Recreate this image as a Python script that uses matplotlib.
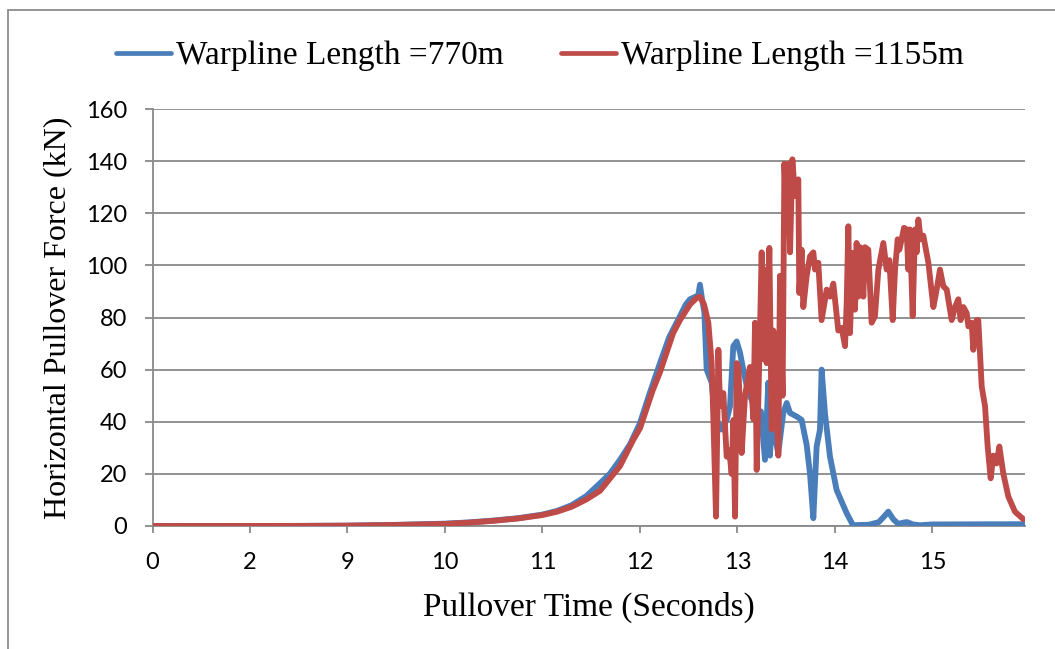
import matplotlib
matplotlib.use("Agg")
import matplotlib.pyplot as plt
from matplotlib.patches import Rectangle

# ---------------- data (positions along the category axis, tick units) ----------------
tick_labels = ['0', '2', '9', '10', '11', '12', '13', '14', '15']

blue_pos = [0, 0.5, 1, 1.5, 2, 2.5, 3, 3.25, 3.5, 3.75,
            4, 4.15, 4.3, 4.45, 4.59, 4.69, 4.795, 4.9, 5.0, 5.1,
            5.205, 5.3, 5.41, 5.47, 5.513, 5.598, 5.615, 5.633, 5.66, 5.684,
            5.735, 5.769, 5.838, 5.889, 5.923, 5.957, 5.992, 6.026, 6.059, 6.111,
            6.146, 6.197, 6.24, 6.282, 6.316, 6.333, 6.351, 6.418, 6.470, 6.505,
            6.538, 6.607, 6.658, 6.710, 6.744, 6.778, 6.812, 6.846, 6.863, 6.898,
            6.949, 7.017, 7.120, 7.185, 7.35, 7.45, 7.5, 7.547, 7.6, 7.65,
            7.7, 7.74, 7.8, 7.87, 8.0, 8.949]
blue_val = [0, 0, 0.02, 0.05, 0.15, 0.45, 0.9, 1.4, 2.1, 3.0,
            4.4, 5.8, 8, 11.5, 16.4, 20, 25.4, 31.5, 39.5, 51,
            62.5, 72.5, 80.5, 85, 87, 88.5, 92.6, 88, 82, 60,
            55, 42, 37, 40.7, 45.8, 69, 70.8, 66.5, 60, 51,
            48.4, 43.4, 44, 25.4, 55, 27, 40, 28, 43.4, 47.2,
            43.4, 42, 40.7, 31, 20, 3, 30.5, 37, 60, 43,
            26.6, 13.8, 4.9, 0.3, 0.5, 1.5, 3.5, 5.5, 2.5, 0.8,
            1.3, 1.5, 0.6, 0.3, 0.6, 0.7]

red_pos = [0, 0.5, 1, 1.5, 2, 2.5, 3, 3.25, 3.5, 3.75,
           4, 4.15, 4.3, 4.45, 4.59, 4.72, 4.795, 4.93, 5.0, 5.13,
           5.205, 5.34, 5.41, 5.513, 5.581, 5.615, 5.657, 5.701, 5.735, 5.752,
           5.780, 5.804, 5.821, 5.855, 5.889, 5.916, 5.940, 5.958, 5.975, 5.992,
           6.009, 6.043, 6.077, 6.128, 6.163, 6.180, 6.197, 6.231, 6.248, 6.265,
           6.282, 6.299, 6.327, 6.351, 6.368, 6.395, 6.419, 6.436, 6.463, 6.481,
           6.504, 6.522, 6.539, 6.563, 6.590, 6.624, 6.634, 6.658, 6.675, 6.710,
           6.744, 6.778, 6.795, 6.829, 6.863, 6.915, 6.949, 6.983, 7.034, 7.069,
           7.103, 7.120, 7.137, 7.154, 7.181, 7.205, 7.222, 7.239, 7.257, 7.291,
           7.308, 7.342, 7.376, 7.410, 7.445, 7.496, 7.530, 7.558, 7.592, 7.616,
           7.643, 7.660, 7.684, 7.708, 7.735, 7.752, 7.769, 7.797, 7.821, 7.838,
           7.855, 7.879, 7.906, 7.958, 8.009, 8.043, 8.077, 8.111, 8.146, 8.197,
           8.231, 8.265, 8.289, 8.317, 8.351, 8.368, 8.402, 8.419, 8.453, 8.470,
           8.505, 8.539, 8.566, 8.597, 8.624, 8.658, 8.686, 8.727, 8.778, 8.846,
           8.932]
red_val = [0, 0, 0.01, 0.04, 0.12, 0.4, 0.8, 1.3, 2.0, 2.9,
           4.2, 5.5, 7.4, 10.2, 13.5, 19.5, 23, 33, 37.5, 52,
           59, 74, 79, 85, 87.5, 88, 85, 78, 62.5, 42,
           3.6, 67.6, 46, 51, 26.6, 29, 20, 40.7, 3.6, 62.5,
           61, 28, 50, 61, 41, 78, 21.5, 75, 105, 64,
           98.4, 62.5, 106.7, 37, 75, 51, 27, 96, 50, 139,
           117.6, 139, 105, 140.7, 126.6, 133, 89.4, 106, 84, 96,
           103.5, 105, 98.4, 101, 79, 90.7, 88, 93, 75, 76,
           69, 85.6, 115, 74, 104.8, 83, 108.6, 88, 107, 88,
           107, 106, 78, 80.5, 98.4, 108.6, 98.4, 102, 79, 98.4,
           110, 106, 110, 114.4, 113.8, 98.4, 113.8, 80.5, 113.8, 105,
           117.6, 110, 111.4, 101, 84, 90.7, 98.4, 92, 90.7, 79,
           84, 87, 79, 84, 81.7, 76.6, 78, 67.6, 79, 79,
           53.5, 46, 30.5, 18.3, 27, 24, 30.5, 20, 11.3, 5.5,
           2.6]

series_names = ['Warpline Length =770m', 'Warpline Length =1155m']
series_colors = ['#4A7EBB', '#BE4B48']

sans_font = 'Lato'
serif_font = 'Liberation Serif'

# ---------------- figure ----------------
fig = plt.figure(figsize=(10.55, 6.49), dpi=100)
ax = fig.add_axes([152.5 / 1055, 1 - 526 / 649, (1025 - 152.5) / 1055, (526 - 109) / 649])

grid_c = '#898989'
ax.plot(blue_pos, blue_val, color=series_colors[0], lw=4.2, solid_joinstyle='round',
        solid_capstyle='round', label=series_names[0], zorder=3)
ax.plot(red_pos, red_val, color=series_colors[1], lw=4.2, solid_joinstyle='round',
        solid_capstyle='round', label=series_names[1], zorder=4)

ax.set_xlim(0, 8.949)
ax.set_ylim(0, 160)
ax.set_yticks(range(0, 161, 20))
ax.set_xticks(range(len(tick_labels)))
ax.set_xticklabels(tick_labels)

ax.grid(axis='y', color=grid_c, lw=1.3, zorder=0)
ax.set_axisbelow(True)
for s in ['top', 'right']:
    ax.spines[s].set_visible(False)
for s in ['left', 'bottom']:
    ax.spines[s].set_color(grid_c)
    ax.spines[s].set_linewidth(1.3)
ax.tick_params(axis='x', direction='out', length=5, width=1.3, color=grid_c,
               labelsize=17, pad=14)
ax.tick_params(axis='y', direction='out', length=6, width=1.3, color=grid_c,
               labelsize=17, pad=12)
for lab in ax.get_xticklabels() + ax.get_yticklabels():
    lab.set_family(sans_font)
    lab.set_color('black')

ax.set_xlabel('Pullover Time (Seconds)', fontsize=24, family=serif_font, labelpad=13)
ax.set_ylabel('Horizontal Pullover Force (kN)', fontsize=23, family=serif_font, labelpad=10)

leg = fig.legend(loc='center', bbox_to_anchor=(540 / 1055, 1 - 56 / 649), ncol=2,
                 frameon=False, prop={'family': serif_font, 'size': 24},
                 handlelength=1.65, handletextpad=0.15, columnspacing=1.7)
for h in leg.get_lines():
    h.set_linewidth(3.4)

# outer chart border
fig.patches.append(Rectangle((8 / 1055, -0.1), 1.2, 1 - 10 / 649 + 0.1,
                             transform=fig.transFigure, fill=False,
                             edgecolor='#8c8c8c', lw=1.3))

fig.savefig('out.png', dpi=100)
